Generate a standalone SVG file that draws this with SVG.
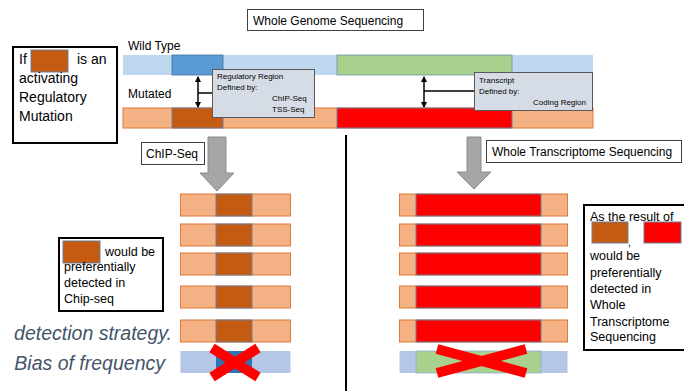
<svg xmlns="http://www.w3.org/2000/svg" width="684" height="391" viewBox="0 0 684 391">
  <style>
    .t { font-family: "Liberation Sans", Arial, sans-serif; fill: #000; }
    .lbl { font-size: 12px; }
    .small { font-size: 8px; }
    .note { font-size: 12.5px; }
    .box { fill: #fff; stroke: #000; stroke-width: 2; }
    .tag { fill: #fff; stroke: #404040; stroke-width: 1; }
    .callout { fill: #D6DCE5; stroke: #595959; stroke-width: 1; }
    .lb { fill: #BDD7EE; }
    .db { fill: #5B9BD5; stroke: #41719C; stroke-width: 0.8; }
    .gr { fill: #A9D18E; stroke: #6F8FAF; stroke-width: 0.8; }
    .lo { fill: #F4B183; stroke: #E07B39; stroke-width: 1; }
    .do { fill: #C55A11; stroke: #6F7F99; stroke-width: 1; }
    .rd { fill: #FF0000; stroke: #6F7F99; stroke-width: 1; }
    .pb { fill: #B4C7E7; }
    .pdb { fill: #2E75B6; }
    .pgr { fill: #A9D18E; stroke: #8FAADC; stroke-width: 0.8; }
    .big { fill: #A6A6A6; stroke: #8C8C8C; stroke-width: 1; }
    .cross { stroke: #FF0000; stroke-width: 10; stroke-linecap: butt; }
    .link { stroke: #000; stroke-width: 1.5; fill: none; }
    .it { font-family: "Liberation Sans", Arial, sans-serif; font-style: italic; font-size: 19.5px; fill: #44546A; }
  </style>
  <defs>
    <marker id="ah" viewBox="0 0 6 6" refX="5" refY="3" markerWidth="4" markerHeight="4" orient="auto-start-reverse">
      <path d="M0,0 L6,3 L0,6 Z" fill="#000"/>
    </marker>
  </defs>

  <!-- title -->
  <g id="wgs">
    <rect class="tag" x="247.5" y="9.5" width="176" height="21"/>
    <text class="t lbl" x="253" y="25">Whole Genome Sequencing</text>
  </g>

  <!-- genome tracks -->
  <g id="wild-type">
    <text class="t lbl" x="128" y="50">Wild Type</text>
    <rect class="lb" x="123" y="55" width="470" height="20"/>
    <rect class="db" x="172" y="55" width="51" height="20"/>
    <rect class="gr" x="337" y="55" width="175" height="20"/>
  </g>
  <g id="mutated">
    <text class="t lbl" x="128" y="98">Mutated</text>
    <rect class="lo" x="123" y="108" width="470" height="20"/>
    <rect class="do" x="172" y="108" width="51" height="20"/>
    <rect class="rd" x="337" y="108" width="175" height="20"/>
  </g>

  <!-- connectors -->
  <g id="connectors">
    <line class="link" x1="198" y1="93" x2="198" y2="77" marker-end="url(#ah)"/>
    <line class="link" x1="198" y1="93" x2="198" y2="107" marker-end="url(#ah)"/>
    <line class="link" x1="198" y1="93" x2="213" y2="93"/>
    <line class="link" x1="424" y1="91" x2="424" y2="77" marker-end="url(#ah)"/>
    <line class="link" x1="424" y1="91" x2="424" y2="107" marker-end="url(#ah)"/>
    <line class="link" x1="424" y1="91" x2="474" y2="91"/>
    <line x1="346" y1="135" x2="346" y2="391" stroke="#000" stroke-width="2"/>
  </g>

  <g id="regulatory-callout">
    <rect class="callout" x="212.5" y="69.5" width="102" height="48"/>
    <text class="t small" x="217" y="79">Regulatory Region</text>
    <text class="t small" x="217" y="90">Defined by:</text>
    <text class="t small" x="272" y="101">ChIP-Seq</text>
    <text class="t small" x="272" y="112">TSS-Seq</text>
  </g>
  <g id="transcript-callout">
    <rect class="callout" x="474.5" y="72.5" width="118" height="38"/>
    <text class="t small" x="479" y="83">Transcript</text>
    <text class="t small" x="479" y="94">Defined by:</text>
    <text class="t small" x="586" y="105" text-anchor="end">Coding Region</text>
  </g>

  <!-- legend on the left -->
  <g id="mutation-note">
    <rect class="box" x="13" y="47" width="104" height="96"/>
    <rect class="do" x="31" y="50" width="37" height="22"/>
    <text class="t" font-size="14" x="19" y="64">If</text>
    <text class="t" font-size="14" x="77" y="64">is an</text>
    <text class="t" font-size="14" x="19" y="83">activating</text>
    <text class="t" font-size="14" x="19" y="102">Regulatory</text>
    <text class="t" font-size="14" x="19" y="121">Mutation</text>
  </g>

  <!-- ChIP-Seq branch -->
  <g id="chip-seq">
    <rect class="tag" x="141.5" y="142.5" width="63" height="22"/>
    <text class="t lbl" x="146" y="158">ChIP-Seq</text>
    <path class="big" d="M208,137 H226 V173 H234 L217,191 L200,173 H208 Z"/>
  </g>
  <g id="chip-reads">
    <rect class="lo" x="180.5" y="194" width="110" height="22"/>
    <rect class="do" x="216" y="194" width="36" height="22"/>
    <rect class="lo" x="180.5" y="224" width="110" height="22"/>
    <rect class="do" x="216" y="224" width="36" height="22"/>
    <rect class="lo" x="180.5" y="253" width="110" height="22"/>
    <rect class="do" x="216" y="253" width="36" height="22"/>
    <rect class="lo" x="180.5" y="286" width="110" height="22"/>
    <rect class="do" x="216" y="286" width="36" height="22"/>
    <rect class="lo" x="180.5" y="320" width="110" height="22"/>
    <rect class="do" x="216" y="320" width="36" height="22"/>
    <rect class="pb" x="180.5" y="351" width="110" height="22"/>
    <rect class="pdb" x="216" y="351" width="36" height="22"/>
    <line class="cross" x1="212" y1="348" x2="258" y2="377"/>
    <line class="cross" x1="258" y1="348" x2="212" y2="377"/>
  </g>
  <g id="chip-note">
    <rect class="box" x="59" y="238" width="104" height="73"/>
    <rect class="do" x="63" y="241" width="37" height="22"/>
    <text class="t note" x="105" y="256">would be</text>
    <text class="t note" x="64" y="271">preferentially</text>
    <text class="t note" x="64" y="287">detected in</text>
    <text class="t note" x="64" y="303">Chip-seq</text>
  </g>

  <!-- transcriptome branch -->
  <g id="transcriptome">
    <rect class="tag" x="486.5" y="140.5" width="195" height="22"/>
    <text class="t lbl" x="492" y="156">Whole Transcriptome Sequencing</text>
    <path class="big" d="M467,137 H481 V172 H491 L474,189 L457,172 H467 Z"/>
  </g>
  <g id="rna-reads">
    <rect class="lo" x="399.5" y="194" width="168" height="22"/>
    <rect class="rd" x="416" y="194" width="125" height="22"/>
    <rect class="lo" x="399.5" y="224" width="168" height="22"/>
    <rect class="rd" x="416" y="224" width="125" height="22"/>
    <rect class="lo" x="399.5" y="253" width="168" height="22"/>
    <rect class="rd" x="416" y="253" width="125" height="22"/>
    <rect class="lo" x="399.5" y="286" width="168" height="22"/>
    <rect class="rd" x="416" y="286" width="125" height="22"/>
    <rect class="lo" x="399.5" y="320" width="168" height="22"/>
    <rect class="rd" x="416" y="320" width="125" height="22"/>
    <rect class="pb" x="399.5" y="351" width="168" height="22"/>
    <rect class="pgr" x="416" y="351" width="125" height="22"/>
    <line class="cross" x1="437" y1="349" x2="526" y2="373"/>
    <line class="cross" x1="526" y1="349" x2="437" y2="373"/>
  </g>
  <g id="rna-note">
    <rect class="box" x="584" y="205" width="102" height="145"/>
    <text class="t note" x="590" y="221">As the result of</text>
    <rect class="do" x="592" y="222" width="36" height="21"/>
    <text class="t" font-size="10" x="628" y="246">,</text>
    <rect class="rd" x="644" y="222" width="37" height="21"/>
    <text class="t note" x="590" y="260">would be</text>
    <text class="t note" x="590" y="277">preferentially</text>
    <text class="t note" x="590" y="293">detected in</text>
    <text class="t note" x="590" y="309">Whole</text>
    <text class="t note" x="590" y="326">Transcriptome</text>
    <text class="t note" x="590" y="341">Sequencing</text>
  </g>

  <!-- caption -->
  <g id="caption">
    <text class="it" x="172" y="340" text-anchor="end">detection strategy.</text>
    <text class="it" x="165" y="370" text-anchor="end">Bias of frequency</text>
  </g>
</svg>
